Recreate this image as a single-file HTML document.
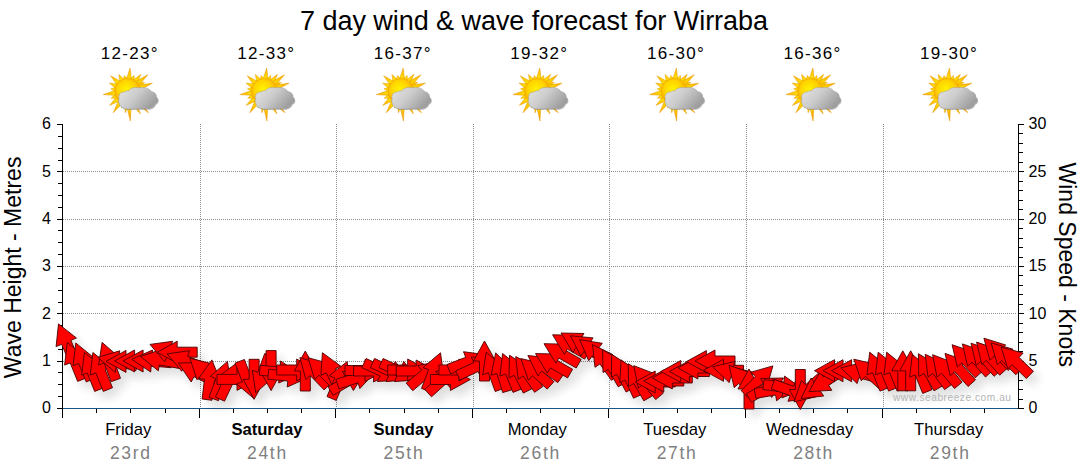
<!DOCTYPE html>
<html><head><meta charset="utf-8">
<style>
html,body{margin:0;padding:0;background:#fff;}
body{width:1080px;height:475px;overflow:hidden;font-family:"Liberation Sans",sans-serif;}
svg{display:block;}
text{font-family:"Liberation Sans",sans-serif;}
</style></head><body>
<svg width="1080" height="475" viewBox="0 0 1080 475">
<defs>
<radialGradient id="sung" cx="0.45" cy="0.42" r="0.6">
<stop offset="0" stop-color="#fff200"/><stop offset="0.55" stop-color="#ffd400"/><stop offset="1" stop-color="#f6a300"/>
</radialGradient>
<radialGradient id="rayg" gradientUnits="userSpaceOnUse" cx="0" cy="0" r="30">
<stop offset="0.4" stop-color="#ffe100"/><stop offset="0.75" stop-color="#fbb800"/><stop offset="1" stop-color="#f08c00"/>
</radialGradient>
<linearGradient id="cloudg" x1="0" y1="0" x2="1" y2="0.5">
<stop offset="0" stop-color="#e4e4e4"/><stop offset="0.5" stop-color="#cccccc"/><stop offset="1" stop-color="#9e9e9e"/>
</linearGradient>
<filter id="blur1" x="-20%" y="-20%" width="140%" height="140%"><feGaussianBlur stdDeviation="0.6"/></filter>
<filter id="ashadow" x="-5%" y="-50%" width="110%" height="250%">
<feGaussianBlur in="SourceAlpha" stdDeviation="5"/><feOffset dx="6" dy="7" result="b"/>
<feComponentTransfer><feFuncA type="linear" slope="0.13"/></feComponentTransfer>
<feMerge><feMergeNode/><feMergeNode in="SourceGraphic"/></feMerge>
</filter>
</defs>
<rect width="1080" height="475" fill="#fff"/>

<!-- title -->
<text x="534" y="29.6" font-size="27" text-anchor="middle" fill="#000" textLength="468" lengthAdjust="spacing">7 day wind &amp; wave forecast for Wirraba</text>

<!-- temps -->
<g font-size="17" fill="#000" text-anchor="middle" letter-spacing="1.3">
<text x="129.7" y="58.8">12-23°</text>
<text x="266.3" y="58.8">12-33°</text>
<text x="402.8" y="58.8">16-37°</text>
<text x="539.4" y="58.8">19-32°</text>
<text x="676.0" y="58.8">16-30°</text>
<text x="812.5" y="58.8">16-36°</text>
<text x="949.1" y="58.8">19-30°</text>
</g>
<!-- icons -->
<g transform="translate(127.7,91.2)">
<g filter="url(#blur1)">
<path fill="url(#rayg)" stroke="#e89a00" stroke-width="0.5" d="M3.9 -10.6 L2.4 -23.2 L-1.6 -11.2Z M6.7 -9.2 L6.4 -15.8 L1.5 -11.2Z M9.0 -6.9 L13.2 -16.9 L4.6 -10.4Z M10.3 -4.7 L20.2 -16.4 L6.8 -9.1Z M11.0 -2.7 L16.8 -8.9 L8.4 -7.6Z M11.3 -0.7 L24.7 -8.0 L9.6 -6.1Z M5.6 9.9 L20.8 21.6 L9.7 6.0Z M2.9 11.0 L12.6 22.7 L7.8 8.3Z M0.5 11.3 L5.6 18.2 L5.9 9.7Z M-1.8 11.2 L2.6 29.9 L3.7 10.7Z M-3.9 10.6 L-2.3 21.6 L1.6 11.2Z M-6.4 9.4 L-6.2 16.9 L-1.1 11.3Z M-8.5 7.6 L-14.5 21.6 L-3.8 10.7Z M-10.4 4.6 L-18.1 14.2 L-6.9 9.0Z M-11.2 1.7 L-16.6 7.0 L-9.0 6.9Z M-11.3 -1.2 L-24.5 3.4 L-10.5 4.3Z M-10.5 -4.3 L-16.8 -2.4 L-11.3 1.2Z M-8.9 -7.0 L-18.3 -8.1 L-11.2 -1.9Z M-6.3 -9.4 L-17.1 -15.4 L-10.0 -5.3Z M-2.7 -11.0 L-8.9 -16.8 L-7.6 -8.4Z M0.6 -11.3 L-3.1 -15.7 L-4.8 -10.3Z"/>
<circle cx="0" cy="0" r="12.8" fill="url(#sung)" stroke="#f0a000" stroke-width="0.6"/>
<path d="M-8.6 8 C-10 4 -7 0.3 -3.5 0.8 C-2.5 0 -0.5 -0.8 1 -0.3 C3 -3.5 7 -4.2 11 -3.4 C16 -4.4 21.5 -3.4 23.5 0.3 C27 1 29 3 28.2 5.6 C31 7 31 11.5 27.5 12.6 C26.5 16 23 17.8 19 17.6 L1 17.8 C-4 18 -8.5 15.5 -8.6 11.5 C-9.3 10.5 -9.3 9 -8.6 8Z" fill="#8a8a8a" opacity="0.55" transform="translate(0.8,1)"/>
<path d="M-8.6 8 C-10 4 -7 0.3 -3.5 0.8 C-2.5 0 -0.5 -0.8 1 -0.3 C3 -3.5 7 -4.2 11 -3.4 C16 -4.4 21.5 -3.4 23.5 0.3 C27 1 29 3 28.2 5.6 C31 7 31 11.5 27.5 12.6 C26.5 16 23 17.8 19 17.6 L1 17.8 C-4 18 -8.5 15.5 -8.6 11.5 C-9.3 10.5 -9.3 9 -8.6 8Z" fill="url(#cloudg)" stroke="#9c9c9c" stroke-width="0.5"/>
</g>
</g>
<g transform="translate(264.3,91.2)">
<g filter="url(#blur1)">
<path fill="url(#rayg)" stroke="#e89a00" stroke-width="0.5" d="M3.9 -10.6 L2.4 -23.2 L-1.6 -11.2Z M6.7 -9.2 L6.4 -15.8 L1.5 -11.2Z M9.0 -6.9 L13.2 -16.9 L4.6 -10.4Z M10.3 -4.7 L20.2 -16.4 L6.8 -9.1Z M11.0 -2.7 L16.8 -8.9 L8.4 -7.6Z M11.3 -0.7 L24.7 -8.0 L9.6 -6.1Z M5.6 9.9 L20.8 21.6 L9.7 6.0Z M2.9 11.0 L12.6 22.7 L7.8 8.3Z M0.5 11.3 L5.6 18.2 L5.9 9.7Z M-1.8 11.2 L2.6 29.9 L3.7 10.7Z M-3.9 10.6 L-2.3 21.6 L1.6 11.2Z M-6.4 9.4 L-6.2 16.9 L-1.1 11.3Z M-8.5 7.6 L-14.5 21.6 L-3.8 10.7Z M-10.4 4.6 L-18.1 14.2 L-6.9 9.0Z M-11.2 1.7 L-16.6 7.0 L-9.0 6.9Z M-11.3 -1.2 L-24.5 3.4 L-10.5 4.3Z M-10.5 -4.3 L-16.8 -2.4 L-11.3 1.2Z M-8.9 -7.0 L-18.3 -8.1 L-11.2 -1.9Z M-6.3 -9.4 L-17.1 -15.4 L-10.0 -5.3Z M-2.7 -11.0 L-8.9 -16.8 L-7.6 -8.4Z M0.6 -11.3 L-3.1 -15.7 L-4.8 -10.3Z"/>
<circle cx="0" cy="0" r="12.8" fill="url(#sung)" stroke="#f0a000" stroke-width="0.6"/>
<path d="M-8.6 8 C-10 4 -7 0.3 -3.5 0.8 C-2.5 0 -0.5 -0.8 1 -0.3 C3 -3.5 7 -4.2 11 -3.4 C16 -4.4 21.5 -3.4 23.5 0.3 C27 1 29 3 28.2 5.6 C31 7 31 11.5 27.5 12.6 C26.5 16 23 17.8 19 17.6 L1 17.8 C-4 18 -8.5 15.5 -8.6 11.5 C-9.3 10.5 -9.3 9 -8.6 8Z" fill="#8a8a8a" opacity="0.55" transform="translate(0.8,1)"/>
<path d="M-8.6 8 C-10 4 -7 0.3 -3.5 0.8 C-2.5 0 -0.5 -0.8 1 -0.3 C3 -3.5 7 -4.2 11 -3.4 C16 -4.4 21.5 -3.4 23.5 0.3 C27 1 29 3 28.2 5.6 C31 7 31 11.5 27.5 12.6 C26.5 16 23 17.8 19 17.6 L1 17.8 C-4 18 -8.5 15.5 -8.6 11.5 C-9.3 10.5 -9.3 9 -8.6 8Z" fill="url(#cloudg)" stroke="#9c9c9c" stroke-width="0.5"/>
</g>
</g>
<g transform="translate(400.8,91.2)">
<g filter="url(#blur1)">
<path fill="url(#rayg)" stroke="#e89a00" stroke-width="0.5" d="M3.9 -10.6 L2.4 -23.2 L-1.6 -11.2Z M6.7 -9.2 L6.4 -15.8 L1.5 -11.2Z M9.0 -6.9 L13.2 -16.9 L4.6 -10.4Z M10.3 -4.7 L20.2 -16.4 L6.8 -9.1Z M11.0 -2.7 L16.8 -8.9 L8.4 -7.6Z M11.3 -0.7 L24.7 -8.0 L9.6 -6.1Z M5.6 9.9 L20.8 21.6 L9.7 6.0Z M2.9 11.0 L12.6 22.7 L7.8 8.3Z M0.5 11.3 L5.6 18.2 L5.9 9.7Z M-1.8 11.2 L2.6 29.9 L3.7 10.7Z M-3.9 10.6 L-2.3 21.6 L1.6 11.2Z M-6.4 9.4 L-6.2 16.9 L-1.1 11.3Z M-8.5 7.6 L-14.5 21.6 L-3.8 10.7Z M-10.4 4.6 L-18.1 14.2 L-6.9 9.0Z M-11.2 1.7 L-16.6 7.0 L-9.0 6.9Z M-11.3 -1.2 L-24.5 3.4 L-10.5 4.3Z M-10.5 -4.3 L-16.8 -2.4 L-11.3 1.2Z M-8.9 -7.0 L-18.3 -8.1 L-11.2 -1.9Z M-6.3 -9.4 L-17.1 -15.4 L-10.0 -5.3Z M-2.7 -11.0 L-8.9 -16.8 L-7.6 -8.4Z M0.6 -11.3 L-3.1 -15.7 L-4.8 -10.3Z"/>
<circle cx="0" cy="0" r="12.8" fill="url(#sung)" stroke="#f0a000" stroke-width="0.6"/>
<path d="M-8.6 8 C-10 4 -7 0.3 -3.5 0.8 C-2.5 0 -0.5 -0.8 1 -0.3 C3 -3.5 7 -4.2 11 -3.4 C16 -4.4 21.5 -3.4 23.5 0.3 C27 1 29 3 28.2 5.6 C31 7 31 11.5 27.5 12.6 C26.5 16 23 17.8 19 17.6 L1 17.8 C-4 18 -8.5 15.5 -8.6 11.5 C-9.3 10.5 -9.3 9 -8.6 8Z" fill="#8a8a8a" opacity="0.55" transform="translate(0.8,1)"/>
<path d="M-8.6 8 C-10 4 -7 0.3 -3.5 0.8 C-2.5 0 -0.5 -0.8 1 -0.3 C3 -3.5 7 -4.2 11 -3.4 C16 -4.4 21.5 -3.4 23.5 0.3 C27 1 29 3 28.2 5.6 C31 7 31 11.5 27.5 12.6 C26.5 16 23 17.8 19 17.6 L1 17.8 C-4 18 -8.5 15.5 -8.6 11.5 C-9.3 10.5 -9.3 9 -8.6 8Z" fill="url(#cloudg)" stroke="#9c9c9c" stroke-width="0.5"/>
</g>
</g>
<g transform="translate(537.4,91.2)">
<g filter="url(#blur1)">
<path fill="url(#rayg)" stroke="#e89a00" stroke-width="0.5" d="M3.9 -10.6 L2.4 -23.2 L-1.6 -11.2Z M6.7 -9.2 L6.4 -15.8 L1.5 -11.2Z M9.0 -6.9 L13.2 -16.9 L4.6 -10.4Z M10.3 -4.7 L20.2 -16.4 L6.8 -9.1Z M11.0 -2.7 L16.8 -8.9 L8.4 -7.6Z M11.3 -0.7 L24.7 -8.0 L9.6 -6.1Z M5.6 9.9 L20.8 21.6 L9.7 6.0Z M2.9 11.0 L12.6 22.7 L7.8 8.3Z M0.5 11.3 L5.6 18.2 L5.9 9.7Z M-1.8 11.2 L2.6 29.9 L3.7 10.7Z M-3.9 10.6 L-2.3 21.6 L1.6 11.2Z M-6.4 9.4 L-6.2 16.9 L-1.1 11.3Z M-8.5 7.6 L-14.5 21.6 L-3.8 10.7Z M-10.4 4.6 L-18.1 14.2 L-6.9 9.0Z M-11.2 1.7 L-16.6 7.0 L-9.0 6.9Z M-11.3 -1.2 L-24.5 3.4 L-10.5 4.3Z M-10.5 -4.3 L-16.8 -2.4 L-11.3 1.2Z M-8.9 -7.0 L-18.3 -8.1 L-11.2 -1.9Z M-6.3 -9.4 L-17.1 -15.4 L-10.0 -5.3Z M-2.7 -11.0 L-8.9 -16.8 L-7.6 -8.4Z M0.6 -11.3 L-3.1 -15.7 L-4.8 -10.3Z"/>
<circle cx="0" cy="0" r="12.8" fill="url(#sung)" stroke="#f0a000" stroke-width="0.6"/>
<path d="M-8.6 8 C-10 4 -7 0.3 -3.5 0.8 C-2.5 0 -0.5 -0.8 1 -0.3 C3 -3.5 7 -4.2 11 -3.4 C16 -4.4 21.5 -3.4 23.5 0.3 C27 1 29 3 28.2 5.6 C31 7 31 11.5 27.5 12.6 C26.5 16 23 17.8 19 17.6 L1 17.8 C-4 18 -8.5 15.5 -8.6 11.5 C-9.3 10.5 -9.3 9 -8.6 8Z" fill="#8a8a8a" opacity="0.55" transform="translate(0.8,1)"/>
<path d="M-8.6 8 C-10 4 -7 0.3 -3.5 0.8 C-2.5 0 -0.5 -0.8 1 -0.3 C3 -3.5 7 -4.2 11 -3.4 C16 -4.4 21.5 -3.4 23.5 0.3 C27 1 29 3 28.2 5.6 C31 7 31 11.5 27.5 12.6 C26.5 16 23 17.8 19 17.6 L1 17.8 C-4 18 -8.5 15.5 -8.6 11.5 C-9.3 10.5 -9.3 9 -8.6 8Z" fill="url(#cloudg)" stroke="#9c9c9c" stroke-width="0.5"/>
</g>
</g>
<g transform="translate(674.0,91.2)">
<g filter="url(#blur1)">
<path fill="url(#rayg)" stroke="#e89a00" stroke-width="0.5" d="M3.9 -10.6 L2.4 -23.2 L-1.6 -11.2Z M6.7 -9.2 L6.4 -15.8 L1.5 -11.2Z M9.0 -6.9 L13.2 -16.9 L4.6 -10.4Z M10.3 -4.7 L20.2 -16.4 L6.8 -9.1Z M11.0 -2.7 L16.8 -8.9 L8.4 -7.6Z M11.3 -0.7 L24.7 -8.0 L9.6 -6.1Z M5.6 9.9 L20.8 21.6 L9.7 6.0Z M2.9 11.0 L12.6 22.7 L7.8 8.3Z M0.5 11.3 L5.6 18.2 L5.9 9.7Z M-1.8 11.2 L2.6 29.9 L3.7 10.7Z M-3.9 10.6 L-2.3 21.6 L1.6 11.2Z M-6.4 9.4 L-6.2 16.9 L-1.1 11.3Z M-8.5 7.6 L-14.5 21.6 L-3.8 10.7Z M-10.4 4.6 L-18.1 14.2 L-6.9 9.0Z M-11.2 1.7 L-16.6 7.0 L-9.0 6.9Z M-11.3 -1.2 L-24.5 3.4 L-10.5 4.3Z M-10.5 -4.3 L-16.8 -2.4 L-11.3 1.2Z M-8.9 -7.0 L-18.3 -8.1 L-11.2 -1.9Z M-6.3 -9.4 L-17.1 -15.4 L-10.0 -5.3Z M-2.7 -11.0 L-8.9 -16.8 L-7.6 -8.4Z M0.6 -11.3 L-3.1 -15.7 L-4.8 -10.3Z"/>
<circle cx="0" cy="0" r="12.8" fill="url(#sung)" stroke="#f0a000" stroke-width="0.6"/>
<path d="M-8.6 8 C-10 4 -7 0.3 -3.5 0.8 C-2.5 0 -0.5 -0.8 1 -0.3 C3 -3.5 7 -4.2 11 -3.4 C16 -4.4 21.5 -3.4 23.5 0.3 C27 1 29 3 28.2 5.6 C31 7 31 11.5 27.5 12.6 C26.5 16 23 17.8 19 17.6 L1 17.8 C-4 18 -8.5 15.5 -8.6 11.5 C-9.3 10.5 -9.3 9 -8.6 8Z" fill="#8a8a8a" opacity="0.55" transform="translate(0.8,1)"/>
<path d="M-8.6 8 C-10 4 -7 0.3 -3.5 0.8 C-2.5 0 -0.5 -0.8 1 -0.3 C3 -3.5 7 -4.2 11 -3.4 C16 -4.4 21.5 -3.4 23.5 0.3 C27 1 29 3 28.2 5.6 C31 7 31 11.5 27.5 12.6 C26.5 16 23 17.8 19 17.6 L1 17.8 C-4 18 -8.5 15.5 -8.6 11.5 C-9.3 10.5 -9.3 9 -8.6 8Z" fill="url(#cloudg)" stroke="#9c9c9c" stroke-width="0.5"/>
</g>
</g>
<g transform="translate(810.5,91.2)">
<g filter="url(#blur1)">
<path fill="url(#rayg)" stroke="#e89a00" stroke-width="0.5" d="M3.9 -10.6 L2.4 -23.2 L-1.6 -11.2Z M6.7 -9.2 L6.4 -15.8 L1.5 -11.2Z M9.0 -6.9 L13.2 -16.9 L4.6 -10.4Z M10.3 -4.7 L20.2 -16.4 L6.8 -9.1Z M11.0 -2.7 L16.8 -8.9 L8.4 -7.6Z M11.3 -0.7 L24.7 -8.0 L9.6 -6.1Z M5.6 9.9 L20.8 21.6 L9.7 6.0Z M2.9 11.0 L12.6 22.7 L7.8 8.3Z M0.5 11.3 L5.6 18.2 L5.9 9.7Z M-1.8 11.2 L2.6 29.9 L3.7 10.7Z M-3.9 10.6 L-2.3 21.6 L1.6 11.2Z M-6.4 9.4 L-6.2 16.9 L-1.1 11.3Z M-8.5 7.6 L-14.5 21.6 L-3.8 10.7Z M-10.4 4.6 L-18.1 14.2 L-6.9 9.0Z M-11.2 1.7 L-16.6 7.0 L-9.0 6.9Z M-11.3 -1.2 L-24.5 3.4 L-10.5 4.3Z M-10.5 -4.3 L-16.8 -2.4 L-11.3 1.2Z M-8.9 -7.0 L-18.3 -8.1 L-11.2 -1.9Z M-6.3 -9.4 L-17.1 -15.4 L-10.0 -5.3Z M-2.7 -11.0 L-8.9 -16.8 L-7.6 -8.4Z M0.6 -11.3 L-3.1 -15.7 L-4.8 -10.3Z"/>
<circle cx="0" cy="0" r="12.8" fill="url(#sung)" stroke="#f0a000" stroke-width="0.6"/>
<path d="M-8.6 8 C-10 4 -7 0.3 -3.5 0.8 C-2.5 0 -0.5 -0.8 1 -0.3 C3 -3.5 7 -4.2 11 -3.4 C16 -4.4 21.5 -3.4 23.5 0.3 C27 1 29 3 28.2 5.6 C31 7 31 11.5 27.5 12.6 C26.5 16 23 17.8 19 17.6 L1 17.8 C-4 18 -8.5 15.5 -8.6 11.5 C-9.3 10.5 -9.3 9 -8.6 8Z" fill="#8a8a8a" opacity="0.55" transform="translate(0.8,1)"/>
<path d="M-8.6 8 C-10 4 -7 0.3 -3.5 0.8 C-2.5 0 -0.5 -0.8 1 -0.3 C3 -3.5 7 -4.2 11 -3.4 C16 -4.4 21.5 -3.4 23.5 0.3 C27 1 29 3 28.2 5.6 C31 7 31 11.5 27.5 12.6 C26.5 16 23 17.8 19 17.6 L1 17.8 C-4 18 -8.5 15.5 -8.6 11.5 C-9.3 10.5 -9.3 9 -8.6 8Z" fill="url(#cloudg)" stroke="#9c9c9c" stroke-width="0.5"/>
</g>
</g>
<g transform="translate(947.1,91.2)">
<g filter="url(#blur1)">
<path fill="url(#rayg)" stroke="#e89a00" stroke-width="0.5" d="M3.9 -10.6 L2.4 -23.2 L-1.6 -11.2Z M6.7 -9.2 L6.4 -15.8 L1.5 -11.2Z M9.0 -6.9 L13.2 -16.9 L4.6 -10.4Z M10.3 -4.7 L20.2 -16.4 L6.8 -9.1Z M11.0 -2.7 L16.8 -8.9 L8.4 -7.6Z M11.3 -0.7 L24.7 -8.0 L9.6 -6.1Z M5.6 9.9 L20.8 21.6 L9.7 6.0Z M2.9 11.0 L12.6 22.7 L7.8 8.3Z M0.5 11.3 L5.6 18.2 L5.9 9.7Z M-1.8 11.2 L2.6 29.9 L3.7 10.7Z M-3.9 10.6 L-2.3 21.6 L1.6 11.2Z M-6.4 9.4 L-6.2 16.9 L-1.1 11.3Z M-8.5 7.6 L-14.5 21.6 L-3.8 10.7Z M-10.4 4.6 L-18.1 14.2 L-6.9 9.0Z M-11.2 1.7 L-16.6 7.0 L-9.0 6.9Z M-11.3 -1.2 L-24.5 3.4 L-10.5 4.3Z M-10.5 -4.3 L-16.8 -2.4 L-11.3 1.2Z M-8.9 -7.0 L-18.3 -8.1 L-11.2 -1.9Z M-6.3 -9.4 L-17.1 -15.4 L-10.0 -5.3Z M-2.7 -11.0 L-8.9 -16.8 L-7.6 -8.4Z M0.6 -11.3 L-3.1 -15.7 L-4.8 -10.3Z"/>
<circle cx="0" cy="0" r="12.8" fill="url(#sung)" stroke="#f0a000" stroke-width="0.6"/>
<path d="M-8.6 8 C-10 4 -7 0.3 -3.5 0.8 C-2.5 0 -0.5 -0.8 1 -0.3 C3 -3.5 7 -4.2 11 -3.4 C16 -4.4 21.5 -3.4 23.5 0.3 C27 1 29 3 28.2 5.6 C31 7 31 11.5 27.5 12.6 C26.5 16 23 17.8 19 17.6 L1 17.8 C-4 18 -8.5 15.5 -8.6 11.5 C-9.3 10.5 -9.3 9 -8.6 8Z" fill="#8a8a8a" opacity="0.55" transform="translate(0.8,1)"/>
<path d="M-8.6 8 C-10 4 -7 0.3 -3.5 0.8 C-2.5 0 -0.5 -0.8 1 -0.3 C3 -3.5 7 -4.2 11 -3.4 C16 -4.4 21.5 -3.4 23.5 0.3 C27 1 29 3 28.2 5.6 C31 7 31 11.5 27.5 12.6 C26.5 16 23 17.8 19 17.6 L1 17.8 C-4 18 -8.5 15.5 -8.6 11.5 C-9.3 10.5 -9.3 9 -8.6 8Z" fill="url(#cloudg)" stroke="#9c9c9c" stroke-width="0.5"/>
</g>
</g>

<!-- grid -->
<g stroke="#8c8c8c" stroke-width="1" stroke-dasharray="1 1" fill="none" shape-rendering="crispEdges">
<line x1="200.5" y1="124" x2="200.5" y2="408"/>
<line x1="336.5" y1="124" x2="336.5" y2="408"/>
<line x1="473.5" y1="124" x2="473.5" y2="408"/>
<line x1="609.5" y1="124" x2="609.5" y2="408"/>
<line x1="746.5" y1="124" x2="746.5" y2="408"/>
<line x1="883.5" y1="124" x2="883.5" y2="408"/>
<line x1="63" y1="361.5" x2="1017" y2="361.5"/>
<line x1="63" y1="313.5" x2="1017" y2="313.5"/>
<line x1="63" y1="266.5" x2="1017" y2="266.5"/>
<line x1="63" y1="219.5" x2="1017" y2="219.5"/>
<line x1="63" y1="171.5" x2="1017" y2="171.5"/>
</g>

<!-- axes -->
<g stroke="#000" stroke-width="1" shape-rendering="crispEdges" fill="none">
<line x1="62.5" y1="124" x2="62.5" y2="418"/>
<line x1="1018.5" y1="124" x2="1018.5" y2="409"/>
<line x1="57" y1="408.5" x2="62" y2="408.5"/>
<line x1="58" y1="396.5" x2="62" y2="396.5"/>
<line x1="58" y1="384.5" x2="62" y2="384.5"/>
<line x1="58" y1="372.5" x2="62" y2="372.5"/>
<line x1="57" y1="361.5" x2="62" y2="361.5"/>
<line x1="58" y1="349.5" x2="62" y2="349.5"/>
<line x1="58" y1="337.5" x2="62" y2="337.5"/>
<line x1="58" y1="325.5" x2="62" y2="325.5"/>
<line x1="57" y1="313.5" x2="62" y2="313.5"/>
<line x1="58" y1="302.5" x2="62" y2="302.5"/>
<line x1="58" y1="290.5" x2="62" y2="290.5"/>
<line x1="58" y1="278.5" x2="62" y2="278.5"/>
<line x1="57" y1="266.5" x2="62" y2="266.5"/>
<line x1="58" y1="254.5" x2="62" y2="254.5"/>
<line x1="58" y1="242.5" x2="62" y2="242.5"/>
<line x1="58" y1="230.5" x2="62" y2="230.5"/>
<line x1="57" y1="219.5" x2="62" y2="219.5"/>
<line x1="58" y1="207.5" x2="62" y2="207.5"/>
<line x1="58" y1="195.5" x2="62" y2="195.5"/>
<line x1="58" y1="183.5" x2="62" y2="183.5"/>
<line x1="57" y1="171.5" x2="62" y2="171.5"/>
<line x1="58" y1="160.5" x2="62" y2="160.5"/>
<line x1="58" y1="148.5" x2="62" y2="148.5"/>
<line x1="58" y1="136.5" x2="62" y2="136.5"/>
<line x1="57" y1="124.5" x2="62" y2="124.5"/>
<line x1="1019" y1="408.5" x2="1024" y2="408.5"/>
<line x1="1019" y1="399.5" x2="1023" y2="399.5"/>
<line x1="1019" y1="389.5" x2="1023" y2="389.5"/>
<line x1="1019" y1="380.5" x2="1023" y2="380.5"/>
<line x1="1019" y1="370.5" x2="1023" y2="370.5"/>
<line x1="1019" y1="361.5" x2="1024" y2="361.5"/>
<line x1="1019" y1="351.5" x2="1023" y2="351.5"/>
<line x1="1019" y1="342.5" x2="1023" y2="342.5"/>
<line x1="1019" y1="332.5" x2="1023" y2="332.5"/>
<line x1="1019" y1="323.5" x2="1023" y2="323.5"/>
<line x1="1019" y1="313.5" x2="1024" y2="313.5"/>
<line x1="1019" y1="304.5" x2="1023" y2="304.5"/>
<line x1="1019" y1="294.5" x2="1023" y2="294.5"/>
<line x1="1019" y1="285.5" x2="1023" y2="285.5"/>
<line x1="1019" y1="275.5" x2="1023" y2="275.5"/>
<line x1="1019" y1="266.5" x2="1024" y2="266.5"/>
<line x1="1019" y1="257.5" x2="1023" y2="257.5"/>
<line x1="1019" y1="247.5" x2="1023" y2="247.5"/>
<line x1="1019" y1="238.5" x2="1023" y2="238.5"/>
<line x1="1019" y1="228.5" x2="1023" y2="228.5"/>
<line x1="1019" y1="219.5" x2="1024" y2="219.5"/>
<line x1="1019" y1="209.5" x2="1023" y2="209.5"/>
<line x1="1019" y1="200.5" x2="1023" y2="200.5"/>
<line x1="1019" y1="190.5" x2="1023" y2="190.5"/>
<line x1="1019" y1="181.5" x2="1023" y2="181.5"/>
<line x1="1019" y1="171.5" x2="1024" y2="171.5"/>
<line x1="1019" y1="162.5" x2="1023" y2="162.5"/>
<line x1="1019" y1="152.5" x2="1023" y2="152.5"/>
<line x1="1019" y1="143.5" x2="1023" y2="143.5"/>
<line x1="1019" y1="133.5" x2="1023" y2="133.5"/>
<line x1="1019" y1="124.5" x2="1024" y2="124.5"/>
</g>
<line x1="63" y1="408.5" x2="1018" y2="408.5" stroke="#1b5584" stroke-width="1.2"/>
<g stroke="#000" stroke-width="1" shape-rendering="crispEdges">
<line x1="62.5" y1="409" x2="62.5" y2="418"/>
<line x1="96.5" y1="409" x2="96.5" y2="413"/>
<line x1="130.5" y1="409" x2="130.5" y2="413"/>
<line x1="165.5" y1="409" x2="165.5" y2="413"/>
<line x1="199.5" y1="409" x2="199.5" y2="418"/>
<line x1="233.5" y1="409" x2="233.5" y2="413"/>
<line x1="267.5" y1="409" x2="267.5" y2="413"/>
<line x1="301.5" y1="409" x2="301.5" y2="413"/>
<line x1="335.5" y1="409" x2="335.5" y2="418"/>
<line x1="369.5" y1="409" x2="369.5" y2="413"/>
<line x1="404.5" y1="409" x2="404.5" y2="413"/>
<line x1="438.5" y1="409" x2="438.5" y2="413"/>
<line x1="472.5" y1="409" x2="472.5" y2="418"/>
<line x1="506.5" y1="409" x2="506.5" y2="413"/>
<line x1="540.5" y1="409" x2="540.5" y2="413"/>
<line x1="574.5" y1="409" x2="574.5" y2="413"/>
<line x1="608.5" y1="409" x2="608.5" y2="418"/>
<line x1="643.5" y1="409" x2="643.5" y2="413"/>
<line x1="677.5" y1="409" x2="677.5" y2="413"/>
<line x1="711.5" y1="409" x2="711.5" y2="413"/>
<line x1="745.5" y1="409" x2="745.5" y2="418"/>
<line x1="779.5" y1="409" x2="779.5" y2="413"/>
<line x1="813.5" y1="409" x2="813.5" y2="413"/>
<line x1="847.5" y1="409" x2="847.5" y2="413"/>
<line x1="882.5" y1="409" x2="882.5" y2="418"/>
<line x1="916.5" y1="409" x2="916.5" y2="413"/>
<line x1="950.5" y1="409" x2="950.5" y2="413"/>
<line x1="984.5" y1="409" x2="984.5" y2="413"/>
</g>

<!-- arrows -->
<g filter="url(#ashadow)">
<g fill="#ff0000" stroke="#4a0000" stroke-width="0.9" stroke-linejoin="miter">
<path d="M58.5 323.9 L76.4 338.0 L70.9 340.3 L78.7 358.8 L69.5 362.7 L61.7 344.3 L56.1 346.6Z"/>
<path d="M67.3 342.5 L85.0 356.9 L79.4 359.1 L86.9 377.7 L77.7 381.4 L70.2 362.9 L64.6 365.1Z"/>
<path d="M75.8 343.0 L93.5 357.4 L88.0 359.6 L95.5 378.2 L86.2 381.9 L78.7 363.4 L73.1 365.6Z"/>
<path d="M84.4 352.5 L102.1 366.9 L96.5 369.1 L104.0 387.7 L94.7 391.4 L87.2 372.9 L81.7 375.1Z"/>
<path d="M92.9 352.5 L110.6 366.9 L105.0 369.1 L112.5 387.7 L103.3 391.4 L95.8 372.9 L90.2 375.1Z"/>
<path d="M102.1 342.4 L119.3 357.4 L113.6 359.5 L120.5 378.3 L111.1 381.7 L104.2 362.9 L98.6 365.0Z"/>
<path d="M97.9 357.4 L119.8 350.8 L118.5 356.7 L138.1 360.9 L136.0 370.6 L116.4 366.5 L115.2 372.4Z"/>
<path d="M106.0 361.4 L126.0 350.4 L126.0 356.4 L146.0 356.4 L146.0 366.4 L126.0 366.4 L126.0 372.4Z"/>
<path d="M114.6 361.0 L134.6 350.0 L134.6 356.0 L154.6 356.0 L154.6 366.0 L134.6 366.0 L134.6 372.0Z"/>
<path d="M123.1 361.0 L143.1 350.0 L143.1 356.0 L163.1 356.0 L163.1 366.0 L143.1 366.0 L143.1 372.0Z"/>
<path d="M131.7 359.3 L152.6 350.0 L152.1 356.0 L172.0 357.8 L171.1 367.7 L151.2 366.0 L150.7 372.0Z"/>
<path d="M140.5 356.5 L162.1 349.2 L161.0 355.1 L180.7 358.5 L179.0 368.4 L159.3 364.9 L158.3 370.8Z"/>
<path d="M150.0 344.4 L172.6 341.3 L170.5 346.9 L189.2 354.1 L185.6 363.4 L166.9 356.3 L164.8 361.9Z"/>
<path d="M157.2 352.2 L177.2 341.2 L177.2 347.2 L197.2 347.2 L197.2 357.2 L177.2 357.2 L177.2 363.2Z"/>
<path d="M167.1 353.8 L189.7 350.7 L187.6 356.3 L206.2 363.5 L202.6 372.8 L184.0 365.7 L181.8 371.3Z"/>
<path d="M178.4 363.1 L201.2 362.4 L198.5 367.7 L216.3 376.8 L211.8 385.7 L193.9 376.7 L191.2 382.0Z"/>
<path d="M189.9 358.2 L212.0 363.8 L207.9 368.1 L222.5 381.8 L215.7 389.1 L201.1 375.5 L197.0 379.8Z"/>
<path d="M211.9 359.9 L220.4 381.1 L214.5 380.4 L212.0 400.3 L202.1 399.0 L204.5 379.2 L198.6 378.5Z"/>
<path d="M227.4 361.4 L230.9 384.0 L225.3 381.9 L218.5 400.7 L209.1 397.3 L215.9 378.5 L210.3 376.4Z"/>
<path d="M236.9 362.9 L238.4 385.6 L233.0 383.1 L224.5 401.2 L215.5 397.0 L223.9 378.9 L218.5 376.4Z"/>
<path d="M257.0 379.4 L237.0 390.4 L237.0 384.4 L217.0 384.4 L217.0 374.4 L237.0 374.4 L237.0 368.4Z"/>
<path d="M254.1 398.7 L236.6 383.9 L242.2 381.8 L235.1 363.1 L244.4 359.5 L251.6 378.2 L257.2 376.1Z"/>
<path d="M254.1 399.3 L243.1 379.3 L249.1 379.3 L249.1 359.3 L259.1 359.3 L259.1 379.3 L265.1 379.3Z"/>
<path d="M255.7 392.8 L252.3 370.2 L257.9 372.3 L264.7 353.5 L274.1 356.9 L267.3 375.7 L272.9 377.8Z"/>
<path d="M271.1 390.6 L260.1 370.6 L266.1 370.6 L266.1 350.6 L276.1 350.6 L276.1 370.6 L282.1 370.6Z"/>
<path d="M299.6 373.7 L278.7 383.0 L279.2 377.0 L259.3 375.2 L260.2 365.3 L280.1 367.0 L280.6 361.0Z"/>
<path d="M308.1 377.7 L287.2 387.0 L287.8 381.0 L267.8 379.2 L268.7 369.3 L288.6 371.0 L289.2 365.0Z"/>
<path d="M316.7 370.0 L296.7 381.0 L296.7 375.0 L276.7 375.0 L276.7 365.0 L296.7 365.0 L296.7 359.0Z"/>
<path d="M305.3 351.0 L316.3 371.0 L310.3 371.0 L310.3 391.0 L300.3 391.0 L300.3 371.0 L294.3 371.0Z"/>
<path d="M299.9 357.6 L321.7 364.4 L317.4 368.5 L331.3 382.9 L324.1 389.9 L310.2 375.5 L305.9 379.6Z"/>
<path d="M308.0 357.7 L330.0 363.7 L325.8 368.0 L340.2 381.9 L333.3 389.1 L318.9 375.2 L314.7 379.5Z"/>
<path d="M322.4 352.7 L340.8 366.2 L335.4 368.7 L343.9 386.8 L334.8 391.0 L326.3 372.9 L320.9 375.4Z"/>
<path d="M347.2 361.6 L349.5 384.3 L344.0 382.0 L336.2 400.4 L327.0 396.5 L334.8 378.0 L329.3 375.7Z"/>
<path d="M365.3 371.0 L353.4 390.5 L350.4 385.3 L333.1 395.3 L328.1 386.7 L345.4 376.7 L342.4 371.5Z"/>
<path d="M375.5 371.8 L359.9 388.5 L358.0 382.8 L339.0 388.9 L335.9 379.4 L354.9 373.2 L353.1 367.5Z"/>
<path d="M385.0 370.5 L365.0 381.5 L365.0 375.5 L345.0 375.5 L345.0 365.5 L365.0 365.5 L365.0 359.5Z"/>
<path d="M393.6 371.0 L373.6 382.0 L373.6 376.0 L353.6 376.0 L353.6 366.0 L373.6 366.0 L373.6 360.0Z"/>
<path d="M400.2 380.0 L377.4 381.5 L380.0 376.0 L361.9 367.6 L366.1 358.5 L384.2 367.0 L386.7 361.5Z"/>
<path d="M408.8 380.0 L386.0 381.5 L388.5 376.0 L370.4 367.6 L374.6 358.5 L392.7 367.0 L395.3 361.5Z"/>
<path d="M417.3 380.0 L394.5 381.5 L397.0 376.0 L378.9 367.6 L383.1 358.5 L401.3 367.0 L403.8 361.5Z"/>
<path d="M427.7 370.0 L407.7 381.0 L407.7 375.0 L387.7 375.0 L387.7 365.0 L407.7 365.0 L407.7 359.0Z"/>
<path d="M436.2 371.0 L416.2 382.0 L416.2 376.0 L396.2 376.0 L396.2 366.0 L416.2 366.0 L416.2 360.0Z"/>
<path d="M440.1 361.1 L431.8 382.4 L428.0 377.8 L412.7 390.7 L406.2 383.0 L421.6 370.2 L417.7 365.6Z"/>
<path d="M440.5 352.8 L443.6 375.4 L438.0 373.3 L430.8 392.0 L421.5 388.4 L428.6 369.7 L423.0 367.6Z"/>
<path d="M457.9 366.3 L450.4 387.9 L446.3 383.4 L431.5 396.8 L424.8 389.4 L439.7 376.0 L435.6 371.5Z"/>
<path d="M470.4 379.5 L450.4 390.5 L450.4 384.5 L430.4 384.5 L430.4 374.5 L450.4 374.5 L450.4 368.5Z"/>
<path d="M478.9 370.0 L458.9 381.0 L458.9 375.0 L438.9 375.0 L438.9 365.0 L458.9 365.0 L458.9 359.0Z"/>
<path d="M486.1 354.8 L471.4 372.3 L469.2 366.7 L450.6 373.8 L447.0 364.5 L465.7 357.3 L463.5 351.7Z"/>
<path d="M494.1 358.5 L480.6 377.0 L478.1 371.5 L460.0 380.0 L455.7 370.9 L473.9 362.5 L471.3 357.0Z"/>
<path d="M484.5 341.0 L495.5 361.0 L489.5 361.0 L489.5 381.0 L479.5 381.0 L479.5 361.0 L473.5 361.0Z"/>
<path d="M486.2 352.2 L503.4 367.2 L497.8 369.3 L504.6 388.1 L495.2 391.5 L488.4 372.7 L482.7 374.8Z"/>
<path d="M495.7 352.9 L512.1 368.8 L506.4 370.5 L512.2 389.7 L502.7 392.6 L496.8 373.5 L491.1 375.2Z"/>
<path d="M502.6 353.5 L520.3 367.9 L514.8 370.1 L522.3 388.7 L513.0 392.4 L505.5 373.9 L499.9 376.1Z"/>
<path d="M509.6 355.2 L528.5 368.0 L523.1 370.7 L532.2 388.6 L523.3 393.1 L514.2 375.3 L508.9 378.0Z"/>
<path d="M515.7 356.6 L536.2 366.7 L531.3 370.1 L542.8 386.5 L534.6 392.3 L523.1 375.9 L518.2 379.3Z"/>
<path d="M520.9 358.6 L543.1 363.8 L539.1 368.3 L553.9 381.7 L547.2 389.1 L532.4 375.7 L528.4 380.2Z"/>
<path d="M527.9 355.5 L550.6 358.0 L547.1 362.9 L563.5 374.4 L557.8 382.6 L541.4 371.1 L538.0 376.0Z"/>
<path d="M535.5 353.6 L558.3 354.1 L555.3 359.3 L572.6 369.3 L567.6 377.9 L550.3 367.9 L547.3 373.1Z"/>
<path d="M544.0 343.7 L566.8 344.2 L563.8 349.4 L581.2 359.4 L576.2 368.0 L558.8 358.0 L555.8 363.2Z"/>
<path d="M552.6 334.8 L575.4 335.3 L572.4 340.5 L589.7 350.5 L584.7 359.1 L567.4 349.1 L564.4 354.3Z"/>
<path d="M561.1 333.0 L583.9 333.5 L580.9 338.7 L598.2 348.7 L593.2 357.3 L575.9 347.3 L572.9 352.5Z"/>
<path d="M570.4 335.8 L593.1 337.9 L589.7 342.9 L606.3 354.0 L600.7 362.3 L584.2 351.1 L580.8 356.1Z"/>
<path d="M579.7 339.7 L602.3 343.3 L598.6 348.1 L614.3 360.4 L608.2 368.3 L592.4 355.9 L588.7 360.7Z"/>
<path d="M592.5 344.6 L613.0 354.7 L608.1 358.1 L619.6 374.5 L611.4 380.3 L599.9 363.9 L595.0 367.3Z"/>
<path d="M602.6 349.7 L622.1 361.5 L616.9 364.5 L626.9 381.8 L618.2 386.8 L608.2 369.5 L603.0 372.5Z"/>
<path d="M611.7 354.3 L630.8 366.8 L625.5 369.7 L634.9 387.3 L626.1 392.0 L616.7 374.3 L611.4 377.2Z"/>
<path d="M621.2 359.9 L639.6 373.4 L634.2 375.9 L642.6 394.0 L633.5 398.2 L625.1 380.1 L619.7 382.6Z"/>
<path d="M628.2 363.7 L647.7 375.5 L642.5 378.5 L652.5 395.8 L643.8 400.8 L633.8 383.5 L628.6 386.5Z"/>
<path d="M633.8 365.7 L655.1 373.9 L650.5 377.8 L663.4 393.1 L655.7 399.5 L642.9 384.2 L638.3 388.1Z"/>
<path d="M635.2 382.0 L655.2 371.0 L655.2 377.0 L675.2 377.0 L675.2 387.0 L655.2 387.0 L655.2 393.0Z"/>
<path d="M643.8 381.0 L663.8 370.0 L663.8 376.0 L683.8 376.0 L683.8 386.0 L663.8 386.0 L663.8 392.0Z"/>
<path d="M652.3 378.0 L672.3 367.0 L672.3 373.0 L692.3 373.0 L692.3 383.0 L672.3 383.0 L672.3 389.0Z"/>
<path d="M660.8 371.5 L680.8 360.5 L680.8 366.5 L700.8 366.5 L700.8 376.5 L680.8 376.5 L680.8 382.5Z"/>
<path d="M669.4 371.5 L689.4 360.5 L689.4 366.5 L709.4 366.5 L709.4 376.5 L689.4 376.5 L689.4 382.5Z"/>
<path d="M677.9 368.0 L697.9 357.0 L697.9 363.0 L717.9 363.0 L717.9 373.0 L697.9 373.0 L697.9 379.0Z"/>
<path d="M686.4 361.6 L706.4 350.6 L706.4 356.6 L726.4 356.6 L726.4 366.6 L706.4 366.6 L706.4 372.6Z"/>
<path d="M695.0 361.0 L715.0 350.0 L715.0 356.0 L735.0 356.0 L735.0 366.0 L715.0 366.0 L715.0 372.0Z"/>
<path d="M703.5 370.3 L723.5 359.3 L723.5 365.3 L743.5 365.3 L743.5 375.3 L723.5 375.3 L723.5 381.3Z"/>
<path d="M712.7 366.8 L734.9 361.4 L733.3 367.2 L752.7 372.3 L750.1 382.0 L730.8 376.8 L729.2 382.6Z"/>
<path d="M729.0 365.3 L750.6 372.8 L746.1 376.9 L759.5 391.7 L752.1 398.4 L738.7 383.5 L734.2 387.6Z"/>
<path d="M749.0 369.0 L760.0 389.0 L754.0 389.0 L754.0 409.0 L744.0 409.0 L744.0 389.0 L738.0 389.0Z"/>
<path d="M772.9 365.9 L766.6 387.8 L762.3 383.5 L748.2 397.7 L741.1 390.6 L755.3 376.5 L751.0 372.2Z"/>
<path d="M783.5 378.0 L771.7 397.5 L768.7 392.3 L751.4 402.3 L746.4 393.7 L763.7 383.7 L760.7 378.5Z"/>
<path d="M794.4 386.5 L776.6 400.8 L775.6 394.9 L755.9 398.4 L754.2 388.5 L773.9 385.1 L772.8 379.2Z"/>
<path d="M803.1 389.4 L781.9 397.9 L782.7 392.0 L762.8 389.5 L764.0 379.6 L783.9 382.0 L784.6 376.1Z"/>
<path d="M810.6 397.8 L788.0 401.3 L790.1 395.7 L771.3 388.9 L774.7 379.5 L793.5 386.3 L795.6 380.7Z"/>
<path d="M800.3 409.5 L789.3 389.5 L795.3 389.5 L795.3 369.5 L805.3 369.5 L805.3 389.5 L811.3 389.5Z"/>
<path d="M794.0 401.9 L801.5 380.3 L805.5 384.8 L820.4 371.4 L827.1 378.8 L812.2 392.2 L816.2 396.7Z"/>
<path d="M801.0 398.5 L811.1 378.0 L814.5 382.9 L830.9 371.4 L836.7 379.6 L820.3 391.1 L823.7 396.0Z"/>
<path d="M809.0 391.6 L820.1 371.7 L823.3 376.8 L840.3 366.2 L845.6 374.6 L828.6 385.2 L831.8 390.3Z"/>
<path d="M814.5 370.7 L834.5 359.7 L834.5 365.7 L854.5 365.7 L854.5 375.7 L834.5 375.7 L834.5 381.7Z"/>
<path d="M823.0 370.7 L843.0 359.7 L843.0 365.7 L863.0 365.7 L863.0 375.7 L843.0 375.7 L843.0 381.7Z"/>
<path d="M831.6 370.7 L851.6 359.7 L851.6 365.7 L871.6 365.7 L871.6 375.7 L851.6 375.7 L851.6 381.7Z"/>
<path d="M840.8 367.8 L862.9 362.4 L861.4 368.2 L880.7 373.3 L878.1 383.0 L858.8 377.8 L857.2 383.6Z"/>
<path d="M853.8 359.2 L876.0 364.4 L872.0 368.9 L886.8 382.3 L880.1 389.7 L865.3 376.3 L861.3 380.8Z"/>
<path d="M869.7 352.2 L887.4 366.6 L881.8 368.8 L889.3 387.4 L880.0 391.1 L872.5 372.6 L867.0 374.8Z"/>
<path d="M878.2 352.2 L895.9 366.6 L890.3 368.8 L897.8 387.4 L888.6 391.1 L881.1 372.6 L875.5 374.8Z"/>
<path d="M886.7 352.2 L904.4 366.6 L898.9 368.8 L906.4 387.4 L897.1 391.1 L889.6 372.6 L884.0 374.8Z"/>
<path d="M902.8 350.8 L913.8 370.8 L907.8 370.8 L907.8 390.8 L897.8 390.8 L897.8 370.8 L891.8 370.8Z"/>
<path d="M910.7 350.8 L921.7 370.8 L915.7 370.8 L915.7 390.8 L905.7 390.8 L905.7 370.8 L899.7 370.8Z"/>
<path d="M912.3 354.5 L930.0 368.9 L924.5 371.1 L932.0 389.7 L922.7 393.4 L915.2 374.9 L909.6 377.1Z"/>
<path d="M918.4 353.7 L937.9 365.5 L932.7 368.5 L942.7 385.8 L934.0 390.8 L924.0 373.5 L918.8 376.5Z"/>
<path d="M925.2 354.3 L945.8 364.0 L941.0 367.6 L952.7 383.7 L944.6 389.6 L932.9 373.4 L928.0 377.0Z"/>
<path d="M932.6 354.7 L953.9 362.9 L949.3 366.8 L962.1 382.1 L954.5 388.5 L941.6 373.2 L937.0 377.1Z"/>
<path d="M945.0 353.4 L966.6 360.9 L962.1 365.0 L975.5 379.8 L968.1 386.5 L954.7 371.6 L950.2 375.7Z"/>
<path d="M952.1 344.7 L973.7 352.2 L969.2 356.3 L982.6 371.1 L975.2 377.8 L961.8 362.9 L957.3 367.0Z"/>
<path d="M962.4 343.9 L984.0 351.4 L979.5 355.5 L992.9 370.3 L985.5 377.0 L972.1 362.1 L967.6 366.2Z"/>
<path d="M971.0 343.2 L992.6 350.7 L988.1 354.8 L1001.5 369.6 L994.1 376.3 L980.7 361.4 L976.2 365.5Z"/>
<path d="M976.6 342.1 L998.2 349.6 L993.7 353.7 L1007.1 368.5 L999.7 375.2 L986.3 360.3 L981.8 364.4Z"/>
<path d="M983.9 338.2 L1005.7 345.0 L1001.4 349.1 L1015.3 363.5 L1008.1 370.5 L994.2 356.1 L989.9 360.2Z"/>
<path d="M991.1 342.9 L1013.0 349.2 L1008.7 353.5 L1022.9 367.6 L1015.8 374.7 L1001.7 360.5 L997.4 364.8Z"/>
<path d="M1001.1 347.1 L1023.1 353.1 L1019.0 357.4 L1033.4 371.3 L1026.4 378.5 L1012.0 364.6 L1007.9 368.9Z"/>
</g>
</g>

<!-- watermark -->
<text x="952" y="400.5" font-size="10.2" fill="#b4b4b4" text-anchor="middle" textLength="118" lengthAdjust="spacing">www.seabreeze.com.au</text>

<!-- axis labels -->
<g font-size="16" fill="#000" text-anchor="end">
<text x="51" y="413.3">0</text>
<text x="51" y="366.0">1</text>
<text x="51" y="318.6">2</text>
<text x="51" y="271.3">3</text>
<text x="51" y="224.0">4</text>
<text x="51" y="176.6">5</text>
<text x="51" y="129.3">6</text>
</g>
<g font-size="16" fill="#000" text-anchor="start">
<text x="1028.5" y="413.3">0</text>
<text x="1028.5" y="366.0">5</text>
<text x="1028.5" y="318.6">10</text>
<text x="1028.5" y="271.3">15</text>
<text x="1028.5" y="224.0">20</text>
<text x="1028.5" y="176.6">25</text>
<text x="1028.5" y="129.3">30</text>
</g>
<text transform="translate(21,267.4) rotate(-90)" font-size="23" text-anchor="middle" fill="#000">Wave Height - Metres</text>
<text transform="translate(1059,264.8) rotate(90)" font-size="23" text-anchor="middle" fill="#000">Wind Speed - Knots</text>

<!-- day labels -->
<g font-size="16.6" fill="#000" text-anchor="middle">
<text x="128.3" y="434.8">Friday</text>
<text x="266.9" y="434.8" font-weight="bold">Saturday</text>
<text x="403.4" y="434.8" font-weight="bold">Sunday</text>
<text x="537.2" y="434.8">Monday</text>
<text x="674.8" y="434.8">Tuesday</text>
<text x="809.6" y="434.8">Wednesday</text>
<text x="948.7" y="434.8">Thursday</text>
</g>
<g font-size="17.5" fill="#808080" text-anchor="middle" letter-spacing="1.7">
<text x="130.8" y="458.6">23rd</text>
<text x="267.4" y="458.6">24th</text>
<text x="403.9" y="458.6">25th</text>
<text x="540.5" y="458.6">26th</text>
<text x="677.1" y="458.6">27th</text>
<text x="813.6" y="458.6">28th</text>
<text x="950.2" y="458.6">29th</text>
</g>
</svg>
</body></html>
